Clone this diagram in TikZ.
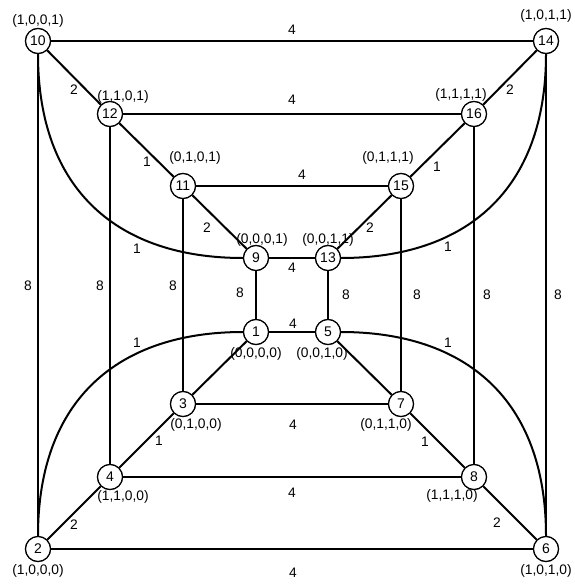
\documentclass[tikz,border=0pt]{standalone}
\usepackage{fontspec}
\setmainfont{Liberation Sans}
\begin{document}
\begin{tikzpicture}[x=1pt,y=-1pt,
  vtx/.style={circle,draw,line width=1.2pt,fill=white,minimum size=25pt,inner sep=0pt,font=\fontsize{14}{14}\selectfont},
  lbl/.style={font=\fontsize{13.8}{14}\selectfont,inner sep=0pt},
  edge/.style={line width=2pt}]
\useasboundingbox (0,0) rectangle (575,586);
% vertices
\node[vtx] (10) at (38,41) {10};
\node[vtx] (14) at (546,41) {14};
\node[vtx] (12) at (110,114) {12};
\node[vtx] (16) at (474,114) {16};
\node[vtx] (11) at (183,186) {11};
\node[vtx] (15) at (401,186) {15};
\node[vtx] (9) at (256,258) {9};
\node[vtx] (13) at (328,258) {13};
\node[vtx] (1) at (256,332) {1};
\node[vtx] (5) at (328,332) {5};
\node[vtx] (3) at (183,404) {3};
\node[vtx] (7) at (401,404) {7};
\node[vtx] (4) at (110,477) {4};
\node[vtx] (8) at (474,477) {8};
\node[vtx] (2) at (38,549) {2};
\node[vtx] (6) at (546,549) {6};
% edges
\draw[edge] (10) -- (14);
\draw[edge] (10) -- (12);
\draw[edge] (12) -- (16);
\draw[edge] (12) -- (11);
\draw[edge] (16) -- (14);
\draw[edge] (16) -- (15);
\draw[edge] (11) -- (15);
\draw[edge] (11) -- (9);
\draw[edge] (15) -- (13);
\draw[edge] (9) -- (13);
\draw[edge] (9) -- (1);
\draw[edge] (13) -- (5);
\draw[edge] (1) -- (5);
\draw[edge] (11) -- (3);
\draw[edge] (15) -- (7);
\draw[edge] (12) -- (4);
\draw[edge] (16) -- (8);
\draw[edge] (10) -- (2);
\draw[edge] (14) -- (6);
\draw[edge] (1) -- (3);
\draw[edge] (5) -- (7);
\draw[edge] (3) -- (7);
\draw[edge] (3) -- (4);
\draw[edge] (7) -- (8);
\draw[edge] (4) -- (8);
\draw[edge] (4) -- (2);
\draw[edge] (8) -- (6);
\draw[edge] (2) -- (6);
% curves
\draw[edge] (10.south) .. controls +(0,137) and +(-124,0) .. (9.west);
\draw[edge] (14.south) .. controls +(0,137) and +(124,0) .. (13.east);
\draw[edge] (2.north) .. controls +(0,-137) and +(-124,0) .. (1.west);
\draw[edge] (6.north) .. controls +(0,-137) and +(124,0) .. (5.east);
% redraw vertices on top
\foreach \n/\x/\y in {10/38/41,14/546/41,12/110/114,16/474/114,11/183/186,15/401/186,9/256/258,13/328/258,1/256/332,5/328/332,3/183/404,7/401/404,4/110/477,8/474/477,2/38/549,6/546/549}
  \node[vtx] at (\x,\y) {\n};
% vertex coordinate labels
\node[lbl] (l10) at (38,21) {(1,0,0,1)};
\node[lbl] (l14) at (546,16) {(1,0,1,1)};
\node[lbl] (l12) at (123,97) {(1,1,0,1)};
\node[lbl] (l16) at (461,95) {(1,1,1,1)};
\node[lbl] (l11) at (195,158) {(0,1,0,1)};
\node[lbl] (l15) at (388,158) {(0,1,1,1)};
\node[lbl] (l9) at (262,240) {(0,0,0,1)};
\node[lbl] (l13) at (328,240) {(0,0,1,1)};
\node[lbl] (l1) at (256,354) {(0,0,0,0)};
\node[lbl] (l5) at (322,354) {(0,0,1,0)};
\node[lbl] (l3) at (196,425) {(0,1,0,0)};
\node[lbl] (l7) at (386,425) {(0,1,1,0)};
\node[lbl] (l4) at (123,497) {(1,1,0,0)};
\node[lbl] (l8) at (452,496) {(1,1,1,0)};
\node[lbl] (l2) at (38,571) {(1,0,0,0)};
\node[lbl] (l6) at (546,571) {(1,0,1,0)};
% edge weights
\node[lbl] (w10-14) at (292,30) {4};
\node[lbl] (w2-6) at (293,573) {4};
\node[lbl] (w10-12) at (74,90) {2};
\node[lbl] (w12-11) at (147,162) {1};
\node[lbl] (w16-14) at (510,90) {2};
\node[lbl] (w16-15) at (437,167) {1};
\node[lbl] (w12-16) at (292,100) {4};
\node[lbl] (w11-15) at (302,175) {4};
\node[lbl] (w11-9) at (207,228) {2};
\node[lbl] (w15-13) at (370,228) {2};
\node[lbl] (w11-3) at (173,286) {8};
\node[lbl] (w9-1) at (240,293) {8};
\node[lbl] (w9-13) at (292,268) {4};
\node[lbl] (w13-5) at (346,295) {8};
\node[lbl] (w1-5) at (293,324) {4};
\node[lbl] (w15-7) at (417,295) {8};
\node[lbl] (w3-7) at (293,425) {4};
\node[lbl] (w3-4) at (159,441) {1};
\node[lbl] (w4-2) at (74,525) {2};
\node[lbl] (w7-8) at (425,442) {1};
\node[lbl] (w8-6) at (497,523) {2};
\node[lbl] (w4-8) at (292,493) {4};
\node[lbl] (w12-4) at (100,286) {8};
\node[lbl] (w16-8) at (487,295) {8};
\node[lbl] (w10-2) at (28,286) {8};
\node[lbl] (w14-6) at (558,295) {8};
\node[lbl] (c10-9) at (137,249) {1};
\node[lbl] (c2-1) at (137,343) {1};
\node[lbl] (c14-13) at (448,247) {1};
\node[lbl] (c6-5) at (448,343) {1};
\end{tikzpicture}
\end{document}
